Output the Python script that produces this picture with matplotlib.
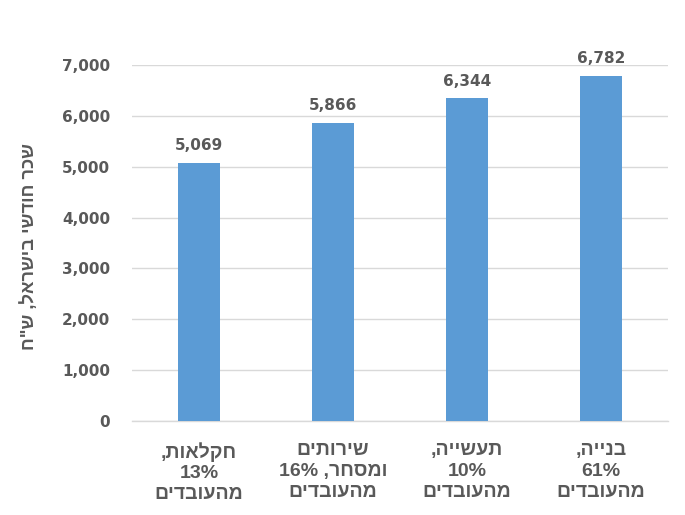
import re
import matplotlib
matplotlib.use("Agg")
import matplotlib.pyplot as plt

categories = [
    ["חקלאות,", "13%", "מהעובדים"],
    ["שירותים", "ומסחר, 16%", "מהעובדים"],
    ["תעשייה,", "10%", "מהעובדים"],
    ["בנייה,", "61%", "מהעובדים"],
]
values = [5069, 5866, 6344, 6782]
y_ticks = [0, 1000, 2000, 3000, 4000, 5000, 6000, 7000]
y_label = 'שכר חודשי בישראל, ש"ח'


def visual(s):
    """Very small bidi helper: RTL order with number runs kept LTR."""
    tokens = re.findall(r"[0-9][0-9,.%]*|[^0-9]+", s)
    out = []
    for t in reversed(tokens):
        if t[0].isdigit():
            out.append(t)
        else:
            out.append(t[::-1])
    return "".join(out)


TXT = "#595959"
BAR = "#5B9BD5"
GRID = "#D9D9D9"

fig = plt.figure(figsize=(6.85, 5.15), dpi=100)
ax = fig.add_axes([0.193, 0.1825, 0.782, 0.6915])

x = list(range(len(values)))
bars = ax.bar(x, values, width=0.31, color=BAR, zorder=3)

ax.set_xlim(-0.5, len(values) - 0.5)
ax.set_ylim(0, 7000)
ax.set_yticks(y_ticks)
ax.set_yticklabels([f"{v:,}" for v in y_ticks], fontsize=11, fontweight="bold",
                   color=TXT, family="DejaVu Sans")
ax.tick_params(axis="y", length=0, pad=16)
ax.tick_params(axis="x", length=0, pad=15)
ax.yaxis.grid(True, color=GRID, linewidth=1, zorder=0)
ax.set_axisbelow(True)
for s in ["top", "right", "left"]:
    ax.spines[s].set_visible(False)
ax.spines["bottom"].set_color(GRID)
ax.spines["bottom"].set_linewidth(1)

ax.set_xticks(x)
ax.set_xticklabels(["\n".join(visual(l) for l in c) for c in categories],
                   fontsize=14, fontweight="bold", color=TXT,
                   family="Liberation Sans", linespacing=1.3)

for xi, v in zip(x, values):
    ax.annotate(f"{v:,}", (xi, v), xytext=(0, 7), textcoords="offset points",
                ha="center", va="bottom", fontsize=11, fontweight="bold",
                color=TXT, family="DejaVu Sans")

fig.text(0.043, 0.522, visual(y_label), rotation=90, ha="center", va="center",
         fontsize=13.2, fontweight="bold", color=TXT, family="Liberation Sans")

fig.savefig("out.png", dpi=100, facecolor="white")
